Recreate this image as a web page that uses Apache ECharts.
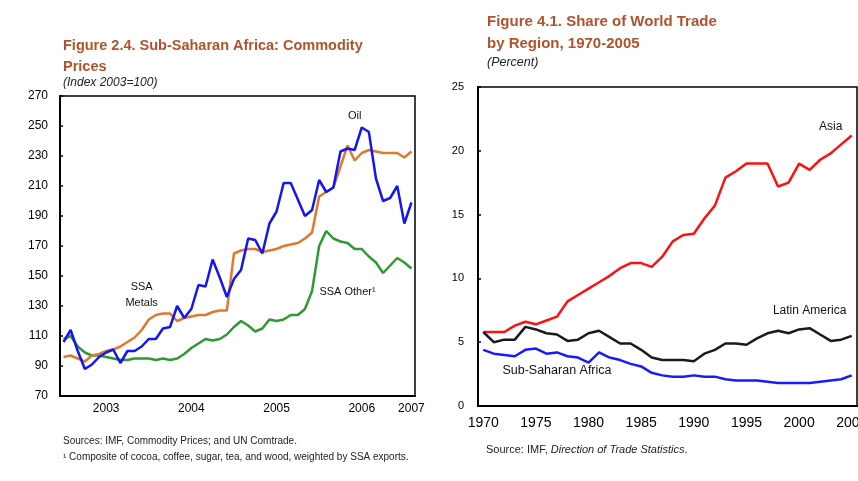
<!DOCTYPE html>
<html>
<head>
<meta charset="utf-8">
<script src="https://cdn.jsdelivr.net/npm/echarts@6/dist/echarts.min.js"></script>
<style>
  html, body { margin: 0; padding: 0; background: #ffffff; }
  #main { width: 858px; height: 481px; }
</style>
</head>
<body>
<div id="main"></div>
<script>
// left panel: monthly commodity price indices (2003 = 100)
const months = [
  '2003-01','2003-02','2003-03','2003-04','2003-05','2003-06','2003-07','2003-08','2003-09','2003-10','2003-11','2003-12',
  '2004-01','2004-02','2004-03','2004-04','2004-05','2004-06','2004-07','2004-08','2004-09','2004-10','2004-11','2004-12',
  '2005-01','2005-02','2005-03','2005-04','2005-05','2005-06','2005-07','2005-08','2005-09','2005-10','2005-11','2005-12',
  '2006-01','2006-02','2006-03','2006-04','2006-05','2006-06','2006-07','2006-08','2006-09','2006-10','2006-11','2006-12',
  '2007-01','2007-02'
];
const monthYearLabels = { '2003-07': '2003', '2004-07': '2004', '2005-07': '2005', '2006-07': '2006', '2007-02': '2007' };

const oil = [106, 114, 100, 88, 91, 96, 99, 101, 92, 100, 100, 103,
             108, 108, 115, 116, 130, 122, 128, 144, 143, 161, 149, 136,
             148, 154, 175, 174, 165, 185, 193, 212, 212, 201, 190, 194,
             214, 206, 209, 233, 235, 234, 249, 246, 215, 200, 202, 210,
             185, 199];
const ssaMetals = [96, 97, 95, 93, 97, 98, 100, 101, 103, 106, 109, 114,
                   121, 124, 125, 125, 120, 122, 123, 124, 124, 126, 127, 127,
                   165, 167, 168, 168, 166, 167, 168, 170, 171, 172, 175, 179,
                   203, 206, 209, 223, 237, 227, 232, 234, 233, 232, 232, 232,
                   229, 233];
const ssaOther = [108, 110, 103, 99, 97, 97, 96, 95, 94, 94, 95, 95,
                  95, 94, 95, 94, 95, 98, 102, 105, 108, 107, 108, 111,
                  116, 120, 117, 113, 115, 121, 120, 121, 124, 124, 128, 140,
                  170, 180, 175, 173, 172, 168, 168, 163, 159, 152, 157, 162,
                  159, 155];

// right panel: share of world trade, percent
const years = ['1970','1971','1972','1973','1974','1975','1976','1977','1978','1979',
               '1980','1981','1982','1983','1984','1985','1986','1987','1988','1989',
               '1990','1991','1992','1993','1994','1995','1996','1997','1998','1999',
               '2000','2001','2002','2003','2004','2005'];
const asia = [5.8, 5.8, 5.8, 6.3, 6.6, 6.4, 6.7, 7.0, 8.2, 8.7,
              9.2, 9.7, 10.2, 10.8, 11.2, 11.2, 10.9, 11.7, 12.9, 13.4,
              13.5, 14.7, 15.7, 17.9, 18.4, 19.0, 19.0, 19.0, 17.2, 17.5,
              19.0, 18.5, 19.3, 19.8, 20.5, 21.2];
const latinAmerica = [5.8, 5.0, 5.2, 5.2, 6.2, 6.0, 5.7, 5.6, 5.1, 5.2,
                      5.7, 5.9, 5.4, 4.9, 4.9, 4.4, 3.8, 3.6, 3.6, 3.6,
                      3.5, 4.1, 4.4, 4.9, 4.9, 4.8, 5.3, 5.7, 5.9, 5.7,
                      6.0, 6.1, 5.6, 5.1, 5.2, 5.5];
const subSaharan = [4.4, 4.1, 4.0, 3.9, 4.4, 4.5, 4.1, 4.2, 3.9, 3.8,
                    3.4, 4.2, 3.8, 3.6, 3.3, 3.1, 2.6, 2.4, 2.3, 2.3,
                    2.4, 2.3, 2.3, 2.1, 2.0, 2.0, 2.0, 1.9, 1.8, 1.8,
                    1.8, 1.8, 1.9, 2.0, 2.1, 2.4];

const FONT = '"Liberation Sans", Arial, sans-serif';
const TITLE_COLOR = '#b0532c';

const chart = echarts.init(document.getElementById('main'));

function tag(coord, text, fontSize) {
  return {
    coord: coord,
    symbol: 'circle',
    symbolSize: 1,
    itemStyle: { color: 'rgba(0,0,0,0)' },
    label: {
      show: true, position: 'inside', formatter: text,
      color: '#111', fontFamily: FONT, fontSize: fontSize, lineHeight: 16, align: 'center'
    }
  };
}

function lineSeries(name, data, color, xi, marks) {
  return {
    name: name,
    type: 'line',
    xAxisIndex: xi,
    yAxisIndex: xi,
    data: data,
    showSymbol: false,
    lineStyle: { color: color, width: 2.5 },
    itemStyle: { color: color },
    animation: false,
    markPoint: marks ? { silent: true, animation: false, data: marks } : undefined
  };
}

const axisBlack = { lineStyle: { color: '#000', width: 2 } };

option = {
  backgroundColor: '#ffffff',
  animation: false,
  textStyle: { fontFamily: FONT },
  title: [
    {
      text: 'Figure 2.4. Sub-Saharan Africa: Commodity\nPrices',
      left: 63, top: 35, padding: 0,
      textStyle: { fontFamily: FONT, fontSize: 14.5, fontWeight: 'bold', color: TITLE_COLOR, lineHeight: 21 }
    },
    {
      text: '(Index 2003=100)',
      left: 63, top: 77, padding: 0,
      textStyle: { fontFamily: FONT, fontSize: 12, fontStyle: 'italic', fontWeight: 'normal', color: '#222' }
    },
    {
      text: 'Figure 4.1. Share of World Trade\nby Region, 1970-2005',
      left: 487, top: 11, padding: 0,
      textStyle: { fontFamily: FONT, fontSize: 15, fontWeight: 'bold', color: TITLE_COLOR, lineHeight: 22 }
    },
    {
      text: '(Percent)',
      left: 487, top: 56, padding: 0,
      textStyle: { fontFamily: FONT, fontSize: 12.5, fontStyle: 'italic', fontWeight: 'normal', color: '#222' }
    },
    {
      text: 'Sources: IMF, Commodity Prices; and UN Comtrade.',
      left: 63, top: 436, padding: 0,
      textStyle: { fontFamily: FONT, fontSize: 10, fontWeight: 'normal', color: '#222' }
    },
    {
      text: '\u00b9 Composite of cocoa, coffee, sugar, tea, and wood, weighted by SSA exports.',
      left: 63, top: 452, padding: 0,
      textStyle: { fontFamily: FONT, fontSize: 10, fontWeight: 'normal', color: '#222' }
    },
    {
      text: 'Source: IMF, {i|Direction of Trade Statistics}.',
      left: 486, top: 444, padding: 0,
      textStyle: {
        fontFamily: FONT, fontSize: 11, fontWeight: 'normal', color: '#222',
        rich: { i: { fontFamily: FONT, fontSize: 11, fontStyle: 'italic', color: '#222' } }
      }
    }
  ],
  grid: [
    { left: 60, top: 96, width: 355, height: 300, show: true, borderColor: '#000', borderWidth: 1.5, outerBoundsMode: 'none' },
    { left: 478, top: 87, width: 379, height: 319, show: true, borderColor: '#000', borderWidth: 1.5, outerBoundsMode: 'none' }
  ],
  xAxis: [
    {
      type: 'category', gridIndex: 0, data: months, boundaryGap: true,
      axisLine: axisBlack,
      axisTick: { inside: true, length: 6, interval: function (i) { return i % 3 === 0; }, lineStyle: { color: '#000', width: 1.5 } },
      axisLabel: {
        interval: 0, margin: 7, fontSize: 12, color: '#000', fontFamily: FONT,
        formatter: function (v) { return monthYearLabels[v] || ''; }
      },
      splitLine: { show: false }
    },
    {
      type: 'category', gridIndex: 1, data: years, boundaryGap: true,
      axisLine: axisBlack,
      axisTick: { inside: true, length: 5, interval: 0, lineStyle: { color: '#000', width: 1.5 } },
      axisLabel: { interval: 4, margin: 10, fontSize: 14, color: '#000', fontFamily: FONT },
      splitLine: { show: false }
    }
  ],
  yAxis: [
    {
      type: 'value', gridIndex: 0, min: 70, max: 270, interval: 20,
      axisLine: { show: true, lineStyle: { color: '#000', width: 2 } },
      axisTick: { show: true, inside: true, length: 3, lineStyle: { color: '#000', width: 1.5 } },
      axisLabel: { margin: 12, fontSize: 12, color: '#000', fontFamily: FONT },
      splitLine: { show: false }
    },
    {
      type: 'value', gridIndex: 1, min: 0, max: 25, interval: 5,
      axisLine: { show: true, lineStyle: { color: '#000', width: 2 } },
      axisTick: { show: true, inside: true, length: 3, lineStyle: { color: '#000', width: 1.5 } },
      axisLabel: { margin: 14, fontSize: 11, color: '#000', fontFamily: FONT },
      splitLine: { show: false }
    }
  ],
  series: [
    lineSeries('SSA Other', ssaOther, '#2f9a34', 0, [tag([40, 139.5], 'SSA Other\u00b9', 11)]),
    lineSeries('SSA Metals', ssaMetals, '#e0782e', 0, [tag([11, 137.5], 'SSA\nMetals', 11)]),
    lineSeries('Oil', oil, '#1414f5', 0, [tag([41, 257], 'Oil', 11)]),
    lineSeries('Asia', asia, '#ff1010', 1, [tag([33, 21.9], 'Asia', 12)]),
    lineSeries('Latin America', latinAmerica, '#1a1a1a', 1, [tag([31, 7.47], 'Latin America', 12)]),
    lineSeries('Sub-Saharan Africa', subSaharan, '#1a1aff', 1, [tag([7, 2.77], 'Sub-Saharan Africa', 12.5)])
  ]
};

chart.setOption(option);
</script>
</body>
</html>
